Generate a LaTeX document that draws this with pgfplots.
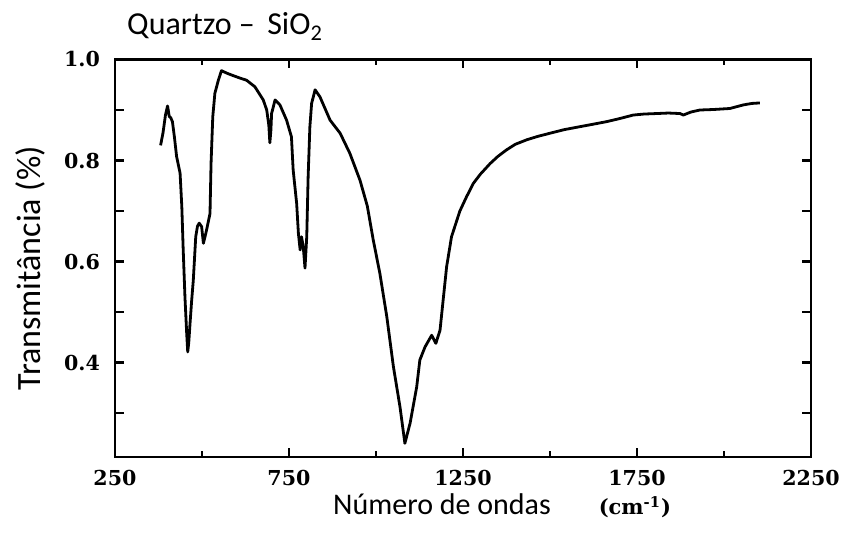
\documentclass[border=0pt]{standalone}
\usepackage{fontspec}
\usepackage{pgfplots}
\pgfplotsset{compat=1.18}
\usetikzlibrary{calc}
\setmainfont{Carlito}
\newfontfamily\tickfont{DejaVu Serif}[BoldFont={DejaVu Serif Bold}]
\begin{document}
\begin{tikzpicture}
\begin{axis}[
  scale only axis,
  width=348pt, height=198.75pt,
  xmin=250, xmax=2250, ymin=0.213, ymax=1.0,
  axis line style={line width=1.3pt},
  tick style={line width=1.1pt, black},
  tick align=inside,
  major tick length=4.5pt, minor tick length=3pt,
  xtick={250,750,1250,1750,2250},
  xticklabels={250,750,1250,1750,2250},
  minor xtick={500,1000,1500,2000},
  ytick={0.3,0.4,0.5,0.6,0.7,0.8,0.9,1.0},
  yticklabels={,0.4,,0.6,,0.8,,1.0},
  xticklabel style={font=\tickfont\bfseries\fontsize{10.3}{12}\selectfont, yshift=-3pt},
  yticklabel style={font=\tickfont\bfseries\fontsize{10.3}{12}\selectfont, xshift=-4pt},
  clip=false,
]
\addplot[black, line width=1.4pt, line join=round] coordinates {
(381,0.830) (388,0.855) (395,0.890) (401,0.908) (406,0.887) (410,0.885)
(415,0.877) (421,0.845) (427,0.808) (437,0.775) (442,0.709) (446,0.623)
(451,0.530) (456,0.458) (459,0.421) (462,0.440) (465,0.471) (470,0.520)
(475,0.563) (482,0.649) (487,0.670) (492,0.676) (499,0.669) (504,0.636)
(509,0.650) (513,0.662) (523,0.695) (526,0.794) (531,0.887) (537,0.933)
(547,0.959) (556,0.978) (571,0.973) (590,0.968) (610,0.963) (628,0.959)
(652,0.946) (676,0.920) (686,0.900) (692,0.870) (695,0.835) (698,0.860)
(700,0.893) (710,0.920) (724,0.910) (743,0.880) (757,0.847) (762,0.781)
(772,0.715) (777,0.656) (782,0.623) (786,0.649) (791,0.629) (796,0.587)
(801,0.649) (805,0.768) (810,0.867) (815,0.913) (825,0.940) (839,0.926)
(868,0.880) (897,0.854) (925,0.814) (954,0.761) (975,0.710) (992,0.643)
(1011,0.577) (1031,0.491) (1050,0.392) (1069,0.312) (1083,0.240) (1098,0.280)
(1117,0.352) (1126,0.405) (1141,0.431) (1160,0.454) (1172,0.438) (1184,0.464)
(1193,0.524) (1203,0.590) (1217,0.649) (1241,0.700) (1260,0.728) (1280,0.755)
(1300,0.773) (1328,0.794) (1350,0.808) (1375,0.821) (1400,0.832) (1433,0.841)
(1466,0.848) (1500,0.854) (1540,0.861) (1586,0.867) (1625,0.872) (1663,0.877)
(1700,0.883) (1739,0.890) (1770,0.892) (1806,0.893) (1840,0.894) (1874,0.893)
(1883,0.890) (1905,0.896) (1931,0.900) (1970,0.901) (2017,0.903) (2055,0.910)
(2080,0.913) (2103,0.914)
};
\node[anchor=base west, inner sep=0pt, yshift=12.25pt, font=\fontsize{16}{19}\selectfont]
  at (axis description cs:0.017,1) {Quartzo – \,SiO\textsubscript{2}};
\node[xshift=-42.5pt, yshift=-5pt, anchor=center, rotate=90, inner sep=0pt, font=\fontsize{17}{20}\selectfont]
  at (axis description cs:0,0.5) {Transmitância (\%)};
\node[anchor=base west, inner sep=0pt, yshift=-29pt, font=\fontsize{15}{18}\selectfont]
  at (axis description cs:0.313,0) {Número de ondas\hspace{24pt}{\tickfont\bfseries\fontsize{10.5}{12}\selectfont (cm\textsuperscript{-1})}};
\end{axis}
\pgfresetboundingbox
\path[use as bounding box] ($(current axis.south west)+(-57.5pt,-38pt)$) rectangle ($(current axis.north east)+(18pt,29.75pt)$);
\end{tikzpicture}
\end{document}
